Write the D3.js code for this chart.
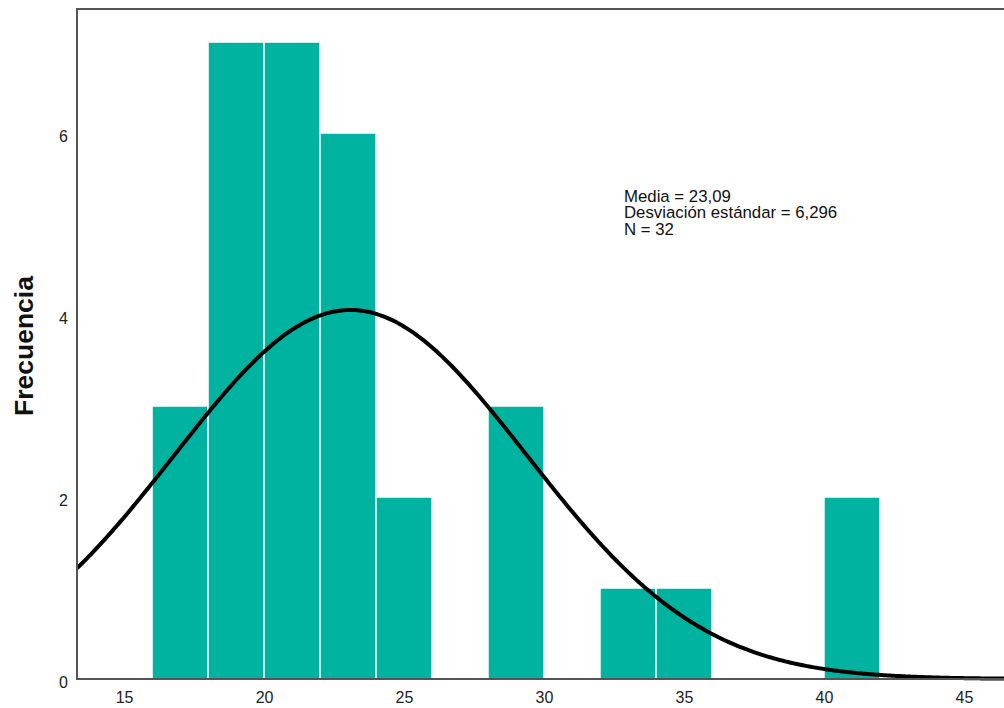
<!DOCTYPE html>
<html>
<head>
<meta charset="utf-8">
<script src="https://cdn.jsdelivr.net/npm/d3@7"></script>
<style>
  body { margin: 0; background: #fff; }
  svg { display: block; font-family: "Liberation Sans", Arial, sans-serif; }
</style>
</head>
<body>
<svg id="chart" width="1004" height="708"></svg>
<script>
// histogram bins (lower edge) and counts
const binStarts = [16, 18, 20, 22, 24, 26, 28, 30, 32, 34, 36, 38, 40];
const counts = [3, 7, 7, 6, 2, 0, 3, 0, 1, 1, 0, 0, 2];
const binWidth = 2;
const xTicks = [15, 20, 25, 30, 35, 40, 45];
const yTicks = [0, 2, 4, 6];
const stats = ["Media = 23,09", "Desviación estándar = 6,296", "N = 32"];
const mean = 23.09, sd = 6.296, n = 32;

const svg = d3.select("#chart");
const plotLeft = 77, plotTop = 9, plotRight = 1004, plotBottom = 679;

const x = d3.scaleLinear().domain([13.32, 46.43]).range([plotLeft, plotRight]);
const y = d3.scaleLinear().domain([0, 7.363]).range([plotBottom, plotTop]);

// bars
svg.append("g")
  .selectAll("rect")
  .data(binStarts.map((b, i) => ({ b, c: counts[i] })).filter(d => d.c > 0))
  .enter()
  .append("rect")
  .attr("x", d => x(d.b))
  .attr("y", d => y(d.c))
  .attr("width", d => x(d.b + binWidth) - x(d.b))
  .attr("height", d => y(0) - y(d.c))
  .attr("fill", "#00b3a0")
  .attr("stroke", "#ffffff")
  .attr("stroke-width", 1.5);

// normal curve
const pdf = v => Math.exp(-0.5 * ((v - mean) / sd) ** 2) / (sd * Math.sqrt(2 * Math.PI));
const curvePts = d3.range(0, 401).map(i => {
  const v = x.domain()[0] + (x.domain()[1] - x.domain()[0]) * i / 400;
  return [v, n * binWidth * pdf(v)];
});
svg.append("path")
  .datum(curvePts)
  .attr("fill", "none")
  .attr("stroke", "#000")
  .attr("stroke-width", 4)
  .attr("d", d3.line().x(d => x(d[0])).y(d => y(d[1])).curve(d3.curveBasis));

// frame: left + top, bottom axis
svg.append("path")
  .attr("d", `M${plotRight},${plotTop}H${plotLeft}V${plotBottom}H${plotRight}`)
  .attr("fill", "none")
  .attr("stroke", "#555")
  .attr("stroke-width", 2);

// x axis tick labels
const xAxis = svg.append("g")
  .attr("transform", `translate(0,${plotBottom})`)
  .call(d3.axisBottom(x).tickValues(xTicks).tickSize(0).tickPadding(13));
xAxis.select(".domain").remove();
xAxis.attr("font-family", null).attr("font-size", null);
xAxis.selectAll("text").attr("font-size", 16).attr("fill", "#222");

// y axis tick labels
const yAxis = svg.append("g")
  .attr("transform", `translate(${plotLeft},0)`)
  .call(d3.axisLeft(y).tickValues(yTicks).tickSize(0).tickPadding(9));
yAxis.select(".domain").remove();
yAxis.attr("font-family", null).attr("font-size", null);
yAxis.selectAll("text").attr("font-size", 16).attr("fill", "#222").attr("dy", "0.55em");

// y axis title
svg.append("text")
  .attr("transform", "translate(33,346)rotate(-90)")
  .attr("text-anchor", "middle")
  .attr("font-size", 26.5)
  .attr("font-weight", "bold")
  .attr("fill", "#111")
  .text("Frecuencia");

// stats annotation
svg.append("g")
  .selectAll("text")
  .data(stats)
  .enter()
  .append("text")
  .attr("x", 624)
  .attr("y", (d, i) => 201.5 + i * 16.6)
  .attr("font-size", 16.8)
  .attr("fill", "#111")
  .text(d => d);
</script>
</body>
</html>
